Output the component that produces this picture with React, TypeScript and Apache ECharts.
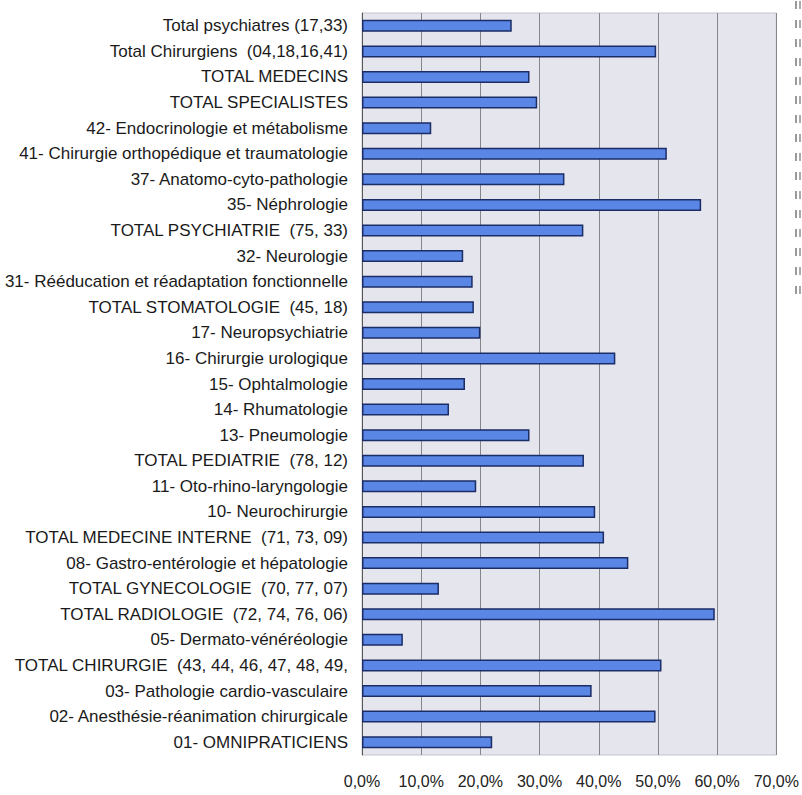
import React, { useEffect, useRef } from "react";
import * as echarts from "echarts";

const categories = [
  "Total psychiatres (17,33)",
  "Total Chirurgiens  (04,18,16,41)",
  "TOTAL MEDECINS",
  "TOTAL SPECIALISTES",
  "42- Endocrinologie et métabolisme",
  "41- Chirurgie orthopédique et traumatologie",
  "37- Anatomo-cyto-pathologie",
  "35- Néphrologie",
  "TOTAL PSYCHIATRIE  (75, 33)",
  "32- Neurologie",
  "31- Rééducation et réadaptation fonctionnelle",
  "TOTAL STOMATOLOGIE  (45, 18)",
  "17- Neuropsychiatrie",
  "16- Chirurgie urologique",
  "15- Ophtalmologie",
  "14- Rhumatologie",
  "13- Pneumologie",
  "TOTAL PEDIATRIE  (78, 12)",
  "11- Oto-rhino-laryngologie",
  "10- Neurochirurgie",
  "TOTAL MEDECINE INTERNE  (71, 73, 09)",
  "08- Gastro-entérologie et hépatologie",
  "TOTAL GYNECOLOGIE  (70, 77, 07)",
  "TOTAL RADIOLOGIE  (72, 74, 76, 06)",
  "05- Dermato-vénéréologie",
  "TOTAL CHIRURGIE  (43, 44, 46, 47, 48, 49,",
  "03- Pathologie cardio-vasculaire",
  "02- Anesthésie-réanimation chirurgicale",
  "01- OMNIPRATICIENS",
];

const values = [
  25.3, 49.7, 28.3, 29.6, 11.7, 51.5, 34.2, 57.3, 37.4, 17.1, 18.7, 18.9, 20.0,
  42.8, 17.4, 14.7, 28.3, 37.5, 19.3, 39.4, 40.9, 45.0, 13.0, 59.6, 6.9, 50.6,
  38.8, 49.6, 22.0,
];

const xMin = 0;
const xMax = 70;
const xInterval = 10;

export default function App() {
  const ref = useRef<HTMLDivElement>(null);
  useEffect(() => {
    if (!ref.current) return;
    const chart = echarts.init(ref.current, null, { renderer: "svg" });
    const marks: any[] = [];
    for (let i = 0; i < 16; i++) {
      marks.push({
        type: "rect",
        shape: { x: 795, y: 1 + i * 19, width: 2, height: 8 },
        style: { fill: "#9a9a9a" },
        silent: true,
      });
      marks.push({
        type: "rect",
        shape: { x: 799, y: 1 + i * 19, width: 2, height: 8 },
        style: { fill: "#aaaaaa" },
        silent: true,
      });
    }
    chart.setOption({
      animation: false,
      backgroundColor: "#ffffff",
      textStyle: { fontFamily: "'Liberation Sans', Arial, sans-serif" },
      grid: {
        left: 362,
        right: 25,
        top: 13,
        bottom: 40,
        containLabel: false,
        show: true,
        backgroundColor: "#e5e6ed",
        borderColor: "#c4c5cc",
        borderWidth: 1,
      },
      xAxis: {
        type: "value",
        min: xMin,
        max: xMax,
        interval: xInterval,
        axisLine: { show: false },
        axisTick: { show: false },
        splitLine: { show: true, lineStyle: { color: "#85868c", width: 1 } },
        axisLabel: {
          color: "#222",
          fontSize: 16,
          margin: 18,
          formatter: (v: number) => v.toFixed(1).replace(".", ",") + "%",
        },
      },
      yAxis: {
        type: "category",
        data: categories,
        inverse: true,
        axisLine: { show: true, lineStyle: { color: "#555", width: 1 } },
        axisTick: { show: false },
        splitLine: { show: false },
        axisLabel: {
          color: "#1a1a1a",
          fontSize: 17,
          margin: 14,
          interval: 0,
        },
      },
      series: [
        {
          type: "bar",
          data: values,
          barWidth: 12,
          itemStyle: {
            color: "#5a86e6",
            borderColor: "#1b2c66",
            borderWidth: 1.5,
          },
        },
      ],
      graphic: marks,
    });
    return () => chart.dispose();
  }, []);
  return (
    <div
      ref={ref}
      style={{ position: "fixed", left: 0, top: 0, width: 802, height: 795 }}
    />
  );
}
